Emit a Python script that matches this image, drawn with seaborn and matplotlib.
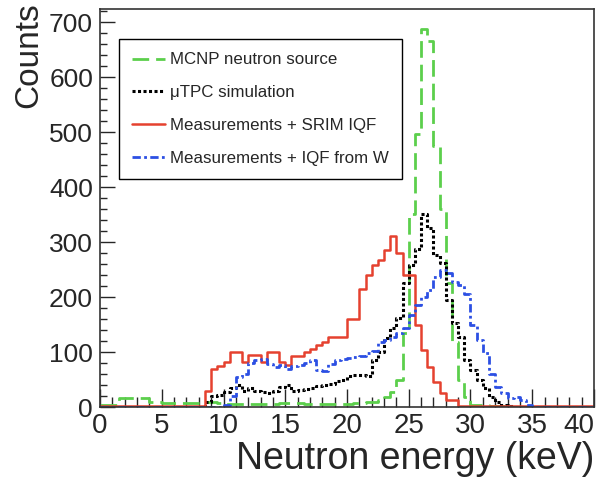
import numpy as np
import pandas as pd
import matplotlib
matplotlib.use("Agg")
import matplotlib.pyplot as plt
from matplotlib.ticker import MultipleLocator
import seaborn as sns

# 0.5 keV bins from 0 to 40 keV
bin_width = 0.5
energy_max = 40

mcnp_source = [
    3, 3, 3, 16, 16, 16, 16, 16, 9, 9,
    8, 8, 8, 8, 8, 8, 8, 9, 9, 8,
    6, 6, 5, 5, 6, 6, 5, 5, 6, 7,
    8, 8, 7, 6, 6, 6, 5, 5, 6, 6,
    6, 7, 8, 9, 10, 13, 18, 27, 50, 135,
    352, 497, 688, 666, 475, 361, 225, 118, 49, 18,
    3, 3, 3, 2, 2, 2, 0, 0, 0, 0,
    0, 0, 0, 0, 0, 0, 0, 0, 0, 0,
]

utpc_sim = [
    0, 0, 0, 0, 0, 0, 0, 0, 0, 0,
    0, 0, 0, 0, 0, 0, 0, 10, 20, 22,
    27, 35, 40, 30, 35, 30, 27, 25, 30, 37,
    40, 30, 31, 33, 35, 38, 40, 42, 48, 50,
    57, 58, 58, 57, 85, 100, 125, 143, 162, 225,
    258, 288, 352, 325, 276, 262, 194, 152, 127, 85,
    67, 49, 34, 18, 9, 4, 2, 0, 0, 0,
    0, 0, 0, 0, 0, 0, 0, 0, 0, 0,
]

meas_srim = [
    2, 2, 2, 2, 2, 2, 2, 2, 2, 2,
    2, 2, 2, 2, 2, 2, 2, 30, 70, 75,
    82, 100, 100, 82, 95, 95, 82, 100, 100, 82,
    76, 92, 92, 100, 105, 112, 118, 127, 127, 127,
    160, 160, 215, 240, 258, 268, 285, 312, 280, 240,
    240, 150, 103, 73, 45, 25, 13, 13, 2, 2,
    2, 2, 2, 2, 2, 2, 2, 2, 2, 2,
    2, 2, 2, 2, 2, 2, 2, 2, 2, 2,
]

meas_iqf_w = [
    0, 0, 0, 0, 0, 0, 0, 0, 0, 0,
    0, 0, 0, 0, 0, 0, 0, 0, 0, 0,
    3, 20, 55, 60, 80, 85, 87, 78, 72, 76,
    70, 74, 76, 80, 85, 68, 66, 78, 85, 87,
    90, 91, 92, 98, 102, 118, 122, 128, 134, 143,
    167, 185, 200, 212, 236, 249, 243, 227, 222, 205,
    150, 122, 98, 60, 36, 25, 16, 18, 13, 4,
    0, 0, 0, 0, 0, 0, 0, 0, 0, 0,
]

labels = [
    "MCNP neutron source",
    "\u03bcTPC simulation",
    "Measurements + SRIM IQF",
    "Measurements + IQF from W",
]

x_ticks = [0, 5, 10, 15, 20, 25, 30, 35, 40]

sns.set_style("ticks")
plt.rcParams['font.family'] = ['Liberation Sans', 'DejaVu Sans']

edges = np.arange(0, energy_max + bin_width / 2, bin_width)
centers = edges[:-1] + bin_width / 2

fig = plt.figure(figsize=(6.04, 4.78), dpi=100)
ax = fig.add_axes([0.1656, 0.1485, 0.8178, 0.8325])

series = [
    (mcnp_source, '#5ccf4c', (0, (6, 2.5)), 2.0),
    (utpc_sim, 'black', (0, (1, 0.8)), 2.2),
    (meas_srim, '#e5412f', '-', 1.8),
    (meas_iqf_w, '#2c4fe3', (0, (3, 1.2, 1, 1.2)), 2.0),
]

for (values, color, ls, lw), label in zip(series, labels):
    df = pd.DataFrame({'energy': centers, 'counts': values})
    sns.histplot(
        data=df,
        x='energy',
        weights='counts',
        bins=edges.tolist(),
        element='step',
        fill=False,
        color=color,
        linestyle=ls,
        linewidth=lw,
        label=label,
        ax=ax,
    )

ax.set_xlim(0, energy_max)
ax.set_ylim(0, 724)

ax.set_xticks(x_ticks)
ax.set_xticklabels([str(t) for t in x_ticks])
ax.xaxis.set_minor_locator(MultipleLocator(1))
ax.yaxis.set_major_locator(MultipleLocator(100))
ax.yaxis.set_minor_locator(MultipleLocator(20))

ax.tick_params(axis='both', which='both', direction='in', top=False, right=False)
ax.tick_params(axis='x', which='major', length=13, width=1, labelsize=20, pad=4)
ax.tick_params(axis='x', which='minor', length=7, width=1)
ax.tick_params(axis='y', which='major', length=11, width=1, labelsize=19, pad=5)
ax.tick_params(axis='y', which='minor', length=5, width=1)

# keep the last x tick label inside the frame, as ROOT does
ax.get_xticklabels()[-1].set_horizontalalignment('right')

for spine in ax.spines.values():
    spine.set_color('#333333')
    spine.set_linewidth(1.2)

ax.set_xlabel("Neutron energy (keV)", fontsize=27, loc='right', labelpad=2)
ax.set_ylabel("Counts", fontsize=24, loc='top')
ax.yaxis.set_label_coords(-0.112, 1.016)

leg_handles, _ = ax.get_legend_handles_labels()
ax.legend(
    handles=leg_handles,
    labels=labels,
    loc='upper left',
    bbox_to_anchor=(0.038, 0.925),
    borderaxespad=0,
    fontsize=12.2,
    frameon=True,
    fancybox=False,
    edgecolor='black',
    framealpha=1,
    handlelength=1.9,
    handletextpad=0.3,
    labelspacing=1.05,
    borderpad=0.8,
)
ax.get_legend().get_frame().set_linewidth(1.0)

fig.savefig("out.png", dpi=100)
plt.close(fig)
